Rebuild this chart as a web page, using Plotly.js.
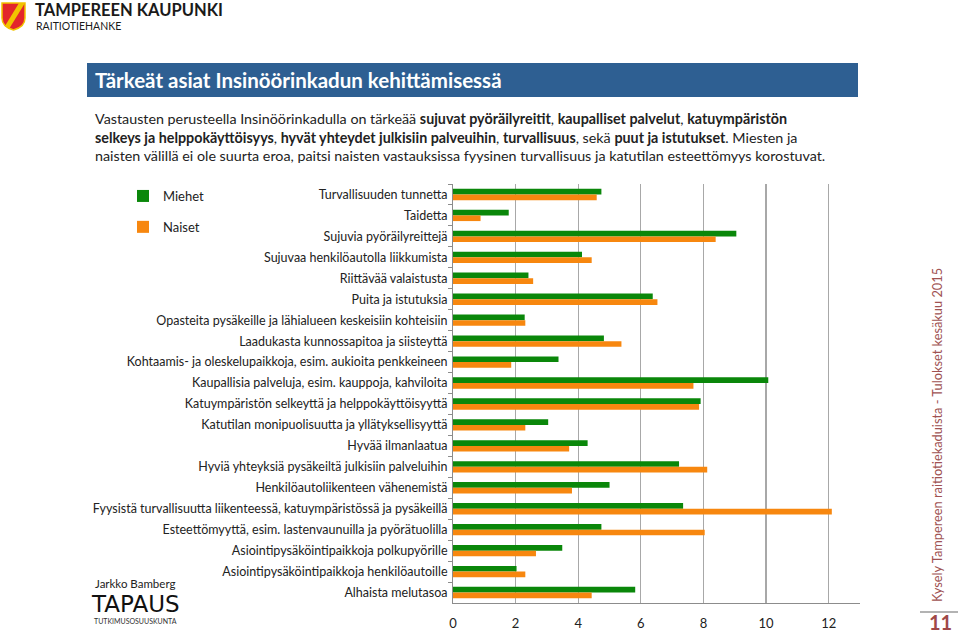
<!DOCTYPE html>
<html>
<head>
<meta charset="utf-8">
<script src="https://cdn.plot.ly/plotly-3.0.1.min.js"></script>
<style>
html,body{margin:0;padding:0;background:#fff;}
#chart{width:960px;height:634px;}
</style>
</head>
<body>
<div id="chart"></div>
<script>
// ---- data ----
var categories = [
  "Turvallisuuden tunnetta",
  "Taidetta",
  "Sujuvia pyöräilyreittejä",
  "Sujuvaa henkilöautolla liikkumista",
  "Riittävää valaistusta",
  "Puita ja istutuksia",
  "Opasteita pysäkeille ja lähialueen keskeisiin kohteisiin",
  "Laadukasta kunnossapitoa ja siisteyttä",
  "Kohtaamis- ja oleskelupaikkoja, esim. aukioita penkkeineen",
  "Kaupallisia palveluja, esim. kauppoja, kahviloita",
  "Katuympäristön selkeyttä ja helppokäyttöisyyttä",
  "Katutilan monipuolisuutta ja yllätyksellisyyttä",
  "Hyvää ilmanlaatua",
  "Hyviä yhteyksiä pysäkeiltä julkisiin palveluihin",
  "Henkilöautoliikenteen vähenemistä",
  "Fyysistä turvallisuutta liikenteessä, katuympäristössä ja pysäkeillä",
  "Esteettömyyttä, esim. lastenvaunuilla ja pyörätuolilla",
  "Asiointipysäköintipaikkoja polkupyörille",
  "Asiointipysäköintipaikkoja henkilöautoille",
  "Alhaista melutasoa"
];
var miehet = [4.74, 1.78, 9.05, 4.12, 2.41, 6.38, 2.29, 4.82, 3.37, 10.07, 7.91, 3.04, 4.30, 7.22, 5.00, 7.35, 4.74, 3.49, 2.03, 5.82];
var naiset = [4.59, 0.88, 8.39, 4.43, 2.56, 6.53, 2.31, 5.38, 1.86, 7.68, 7.86, 2.31, 3.71, 8.12, 3.80, 12.10, 8.04, 2.65, 2.31, 4.43];
var seriesNames = ["Miehet", "Naiset"];
var xTicks = [0, 2, 4, 6, 8, 10, 12];

// ---- layout geometry ----
var W = 960, H = 634;
var L = 453, R = 860, T = 184, B = 603;
function px(x){ return (x - L) / (R - L); }
function py(y){ return 1 - (y - T) / (B - T); }

var FONT = "Lato, 'Noto Sans', sans-serif";
var green = "#0A870A", orange = "#F7870F";

var traces = [
  {type:"bar", orientation:"h", name:seriesNames[0], y:categories, x:miehet,
   marker:{color:green}, legendgroup:"m", hoverinfo:"x+y"},
  {type:"bar", orientation:"h", name:seriesNames[1], y:categories, x:naiset,
   marker:{color:orange}, legendgroup:"n", hoverinfo:"x+y"}
];

var shapes = [
  // title bar
  {type:"rect", xref:"paper", yref:"paper", x0:px(87), x1:px(858), y0:py(97), y1:py(63),
   fillcolor:"#2E5F92", line:{width:0}, layer:"below"},
  // page number rule
  {type:"line", xref:"paper", yref:"paper", x0:px(920), x1:px(958), y0:py(612), y1:py(612),
   line:{color:"#9a9a9a", width:1.5}},
  // shield logo
  {type:"path", xref:"paper", yref:"paper",
   path:"M "+px(2)+" "+py(3)+" L "+px(25)+" "+py(3)+" L "+px(25)+" "+py(18)+" Q "+px(25)+" "+py(27)+" "+px(13.5)+" "+py(30)+" Q "+px(2)+" "+py(27)+" "+px(2)+" "+py(18)+" Z",
   fillcolor:"#E3262B", line:{color:"#F2C300", width:1.5}},
  {type:"path", xref:"paper", yref:"paper",
   path:"M "+px(19)+" "+py(3)+" L "+px(25)+" "+py(3)+" L "+px(9)+" "+py(29)+" L "+px(5)+" "+py(26)+" Z",
   fillcolor:"#F2C300", line:{width:0}}
];

var dark = "#222222";
var annotations = [
  {text:"TAMPEREEN KAUPUNKI", x:px(33), y:py(10), xanchor:"left", yanchor:"middle",
   font:{family:FONT, size:16.5, color:"#1a1a1a", weight:"bold"}},
  {text:"RAITIOTIEHANKE", x:px(34), y:py(26), xanchor:"left", yanchor:"middle",
   font:{family:FONT, size:10.5, color:"#1a1a1a"}},
  {text:"<b>Tärkeät asiat Insinöörinkadun kehittämisessä</b>", x:px(93), y:py(80), xanchor:"left", yanchor:"middle",
   font:{family:FONT, size:20.5, color:"#ffffff"}},
  {text:"Vastausten perusteella Insinöörinkadulla on tärkeää <b>sujuvat pyöräilyreitit</b>, <b>kaupalliset palvelut</b>, <b>katuympäristön</b>",
   x:px(93), y:py(118), xanchor:"left", yanchor:"middle", font:{family:FONT, size:14.3, color:dark}},
  {text:"<b>selkeys ja helppokäyttöisyys</b>, <b>hyvät yhteydet julkisiin palveuihin</b>, <b>turvallisuus</b>, sekä <b>puut ja istutukset</b>. Miesten ja",
   x:px(93), y:py(137), xanchor:"left", yanchor:"middle", font:{family:FONT, size:14.3, color:dark}},
  {text:"naisten välillä ei ole suurta eroa, paitsi naisten vastauksissa fyysinen turvallisuus ja katutilan esteettömyys korostuvat.",
   x:px(93), y:py(156), xanchor:"left", yanchor:"middle", font:{family:FONT, size:14.3, color:dark}},
  {text:"Kysely Tampereen raitiotiekaduista - Tulokset kesäkuu 2015", x:px(937), y:py(435),
   xanchor:"center", yanchor:"middle", textangle:-90, font:{family:FONT, size:12.8, color:"#A05252"}},
  {text:"<b>11</b>", x:px(940), y:py(622), xanchor:"center", yanchor:"middle",
   font:{family:FONT, size:20, color:"#A04848"}},
  {text:"Jarkko Bamberg", x:px(135), y:py(583), xanchor:"center", yanchor:"middle",
   font:{family:FONT, size:11.5, color:dark}},
  {text:"TAPAUS", x:px(135), y:py(604), xanchor:"center", yanchor:"middle",
   font:{family:"'DejaVu Sans', sans-serif", size:23, color:"#111111"}},
  {text:"TUTKIMUSOSUUSKUNTA", x:px(135), y:py(621), xanchor:"center", yanchor:"middle",
   font:{family:FONT, size:7, color:"#333333"}}
];
annotations.forEach(function(a){ a.xref="paper"; a.yref="paper"; a.showarrow=false; });

var layout = {
  width:W, height:H,
  margin:{l:L, r:W-R, t:T, b:H-B, pad:0},
  paper_bgcolor:"#ffffff", plot_bgcolor:"#ffffff",
  font:{family:FONT, size:12, color:dark},
  barmode:"group", bargap:0.46, bargroupgap:0,
  showlegend:true,
  legend:{xref:"container", yref:"container", x:123/W, y:1-181/H, xanchor:"left", yanchor:"top",
          traceorder:"grouped", tracegroupgap:11, font:{family:FONT, size:13, color:dark},
          bgcolor:"rgba(0,0,0,0)", itemwidth:30},
  xaxis:{range:[0,13], tickvals:xTicks, ticktext:xTicks.map(String), showgrid:true,
         gridcolor:"#A8A8A8", gridwidth:1.2, zeroline:false, showline:true, linecolor:"#8C8C8C",
         linewidth:1, ticks:"", ticklabelstandoff:8, tickfont:{family:FONT, size:13, color:dark}, fixedrange:true},
  yaxis:{type:"category", autorange:"reversed", showgrid:false, zeroline:false, showline:true,
         linecolor:"#8C8C8C", linewidth:1, ticks:"outside", tickson:"boundaries", ticklen:4,
         tickcolor:"#8C8C8C", tickfont:{family:FONT, size:12.5, color:dark}, automargin:false,
         ticklabelstandoff:2, fixedrange:true},
  shapes:shapes,
  annotations:annotations
};

Plotly.newPlot("chart", traces, layout, {displayModeBar:false, staticPlot:true});
</script>
</body>
</html>
